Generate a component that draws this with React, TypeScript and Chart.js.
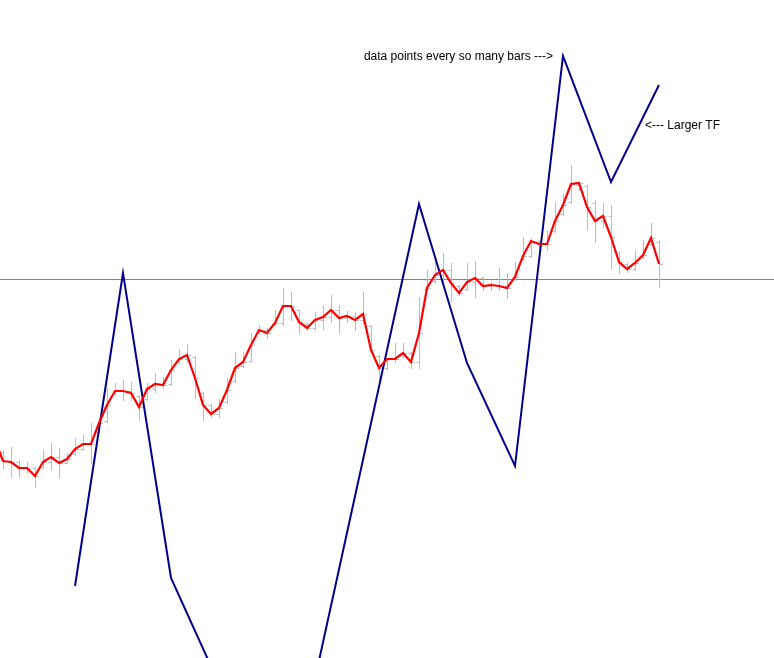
import React, { useEffect, useRef } from "react";
import { Chart, registerables } from "chart.js";

Chart.register(...registerables);

// ---- data (bar number = position on the time axis) ----
const closes = [
  218, 197, 196, 190, 190, 182, 196, 201, 195, 199, 209, 214, 214, 235, 253, 267, 267, 265, 251, 269,
  274, 273, 288, 299, 303, 280, 253, 244, 250, 268, 290, 296, 313, 328, 325, 335, 352, 352, 336, 330,
  338, 341, 348, 340, 342, 338, 344, 308, 290, 299, 299, 305, 296, 325, 370, 383, 388, 375, 365, 376,
  380, 372, 373, 372, 370, 381, 402, 417, 414, 414, 437, 453, 474, 475, 451, 437, 442, 421, 396, 389,
  395, 403, 420, 394,
];
const opens = [
  215, 206, 197, 196, 190, 190, 191, 196, 201, 195, 204, 209, 214, 226, 237, 264, 267, 267, 262, 259,
  269, 274, 274, 296, 299, 301, 265, 253, 244, 256, 277, 292, 297, 325, 328, 334, 335, 352, 348, 334,
  330, 338, 341, 348, 340, 342, 338, 332, 302, 290, 299, 302, 305, 296, 369, 377, 383, 388, 372, 369,
  376, 380, 372, 373, 372, 379, 399, 402, 416, 414, 427, 444, 456, 473, 472, 455, 437, 442, 405, 394,
  389, 401, 414, 416,
];
const highs = [
  225, 208, 211, 198, 196, 191, 208, 215, 210, 205, 220, 223, 235, 240, 270, 275, 278, 276, 263, 275,
  285, 281, 298, 309, 314, 302, 266, 254, 259, 280, 306, 306, 325, 333, 330, 348, 370, 366, 349, 335,
  346, 353, 363, 353, 347, 346, 366, 333, 303, 300, 315, 315, 306, 361, 388, 400, 405, 395, 373, 395,
  397, 381, 376, 390, 385, 396, 421, 420, 418, 428, 456, 465, 493, 476, 473, 458, 455, 453, 406, 395,
  408, 418, 435, 418,
];
const lows = [
  205, 190, 181, 181, 185, 171, 190, 188, 180, 195, 203, 208, 195, 225, 236, 263, 258, 258, 238, 258,
  266, 270, 273, 295, 296, 260, 238, 241, 241, 255, 276, 291, 296, 324, 320, 333, 333, 338, 325, 328,
  328, 329, 336, 325, 336, 328, 335, 306, 278, 288, 296, 301, 290, 290, 368, 376, 375, 356, 363, 368,
  361, 368, 368, 368, 360, 378, 398, 401, 411, 408, 426, 443, 455, 468, 428, 416, 431, 390, 385, 386,
  388, 400, 413, 371,
];

// larger-timeframe line, one point every so many bars
const tfBars = [10, 16, 22, 36, 53, 59, 65, 71, 77, 83];
const tfValues = [72, 385, 80, -167, 454, 295, 192, 602, 476, 573];

// horizontal level
const levelValue = 379;

// annotations
const noteLeftText = "data points every so many bars --->";
const noteLeftBar = 69.75;
const noteLeftValue = 601;
const noteRightText = "<--- Larger TF";
const noteRightBar = 81.25;
const noteRightValue = 532;

const ohlcPlugin = {
  id: "ohlcBars",
  beforeDatasetsDraw(chart: any) {
    const { ctx, chartArea } = chart;
    const x = chart.scales.x;
    const y = chart.scales.y;
    ctx.save();
    // horizontal level line
    const ly = Math.round(y.getPixelForValue(levelValue)) + 0.5;
    ctx.strokeStyle = "#858585";
    ctx.lineWidth = 1;
    ctx.beginPath();
    ctx.moveTo(chartArea.left, ly);
    ctx.lineTo(chartArea.right, ly);
    ctx.stroke();
    // OHLC bars
    ctx.strokeStyle = "#bcbcbc";
    ctx.lineWidth = 1;
    ctx.beginPath();
    for (let k = 0; k < closes.length; k++) {
      const px = Math.round(x.getPixelForValue(k)) + 0.5;
      const hi = Math.max(highs[k], opens[k], closes[k]);
      const lo = Math.min(lows[k], opens[k], closes[k]);
      const top = Math.round(y.getPixelForValue(hi));
      const bot = Math.round(y.getPixelForValue(lo));
      ctx.moveTo(px, top);
      ctx.lineTo(px, bot + 1);
      const oy = Math.round(y.getPixelForValue(opens[k])) + 0.5;
      ctx.moveTo(px - 3, oy);
      ctx.lineTo(px, oy);
      const cy = Math.round(y.getPixelForValue(closes[k])) + 0.5;
      ctx.moveTo(px, cy);
      ctx.lineTo(px + 3.5, cy);
    }
    ctx.stroke();
    ctx.restore();
  },
  afterDatasetsDraw(chart: any) {
    const { ctx } = chart;
    const x = chart.scales.x;
    const y = chart.scales.y;
    ctx.save();
    ctx.fillStyle = "#000000";
    ctx.font = '12px "Liberation Sans", Arial, sans-serif';
    ctx.textBaseline = "middle";
    ctx.textAlign = "right";
    ctx.fillText(noteLeftText, x.getPixelForValue(noteLeftBar), y.getPixelForValue(noteLeftValue));
    ctx.textAlign = "left";
    ctx.fillText(noteRightText, x.getPixelForValue(noteRightBar), y.getPixelForValue(noteRightValue));
    ctx.restore();
  },
};

export default function App() {
  const canvasRef = useRef<HTMLCanvasElement | null>(null);

  useEffect(() => {
    const canvas = canvasRef.current;
    if (!canvas) return;
    const chart = new Chart(canvas, {
      type: "line",
      data: {
        datasets: [
          {
            label: "Close",
            data: closes.map((v, k) => ({ x: k, y: v })),
            borderColor: "#ff0000",
            borderWidth: 2.2,
            pointRadius: 0,
            tension: 0,
            fill: false,
          },
          {
            label: "Larger TF",
            data: tfBars.map((b, i) => ({ x: b, y: tfValues[i] })),
            borderColor: "#00008c",
            borderWidth: 2,
            pointRadius: 0,
            tension: 0,
            fill: false,
          },
        ],
      },
      options: {
        animation: false,
        responsive: false,
        maintainAspectRatio: false,
        devicePixelRatio: 1,
        layout: { padding: 0 },
        events: [],
        plugins: {
          legend: { display: false },
          tooltip: { enabled: false },
          title: { display: false },
        },
        scales: {
          x: { type: "linear", display: false, min: 0.625, max: 97.375 },
          y: { type: "linear", display: false, min: 0, max: 658 },
        },
      },
      plugins: [ohlcPlugin],
    });
    return () => chart.destroy();
  }, []);

  return (
    <div style={{ position: "fixed", left: 0, top: 0, width: 774, height: 658, background: "#ffffff" }}>
      <canvas ref={canvasRef} width={774} height={658} style={{ display: "block", width: 774, height: 658 }} />
    </div>
  );
}
